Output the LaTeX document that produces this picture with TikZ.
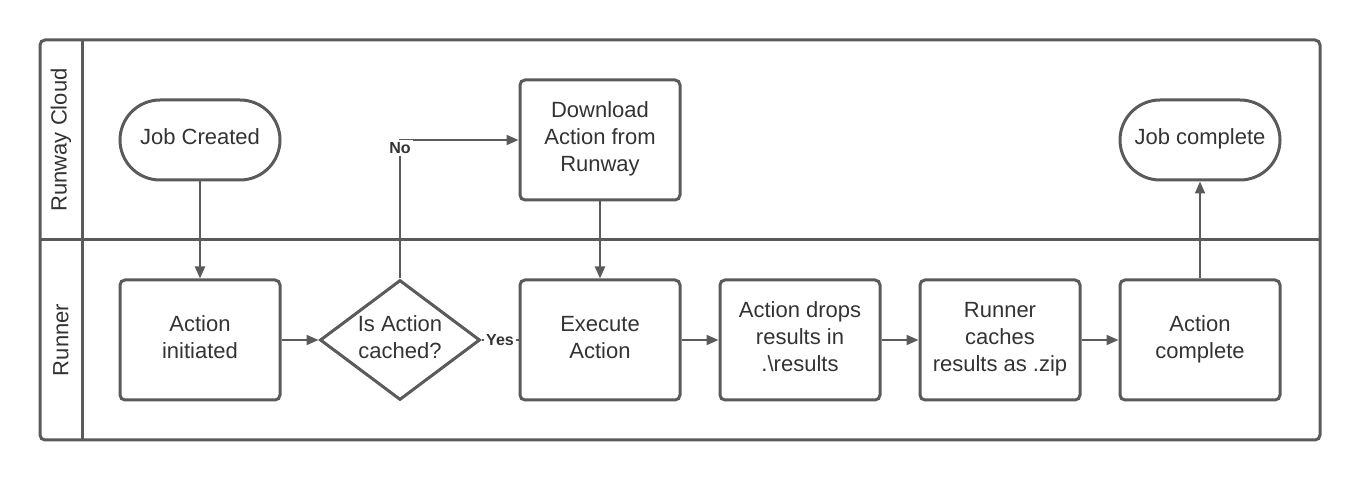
\documentclass[tikz,border=0pt]{standalone}
\usepackage{fontspec}
\setmainfont{Liberation Sans}
\usetikzlibrary{shapes.geometric,arrows.meta}
\definecolor{linegray}{HTML}{5A5A5A}
\definecolor{textgray}{HTML}{333333}
\def\lanefont{\fontsize{11}{13.5}\selectfont}
\tikzset{
  process/.style={draw=linegray, line width=1.5pt, rounded corners=2.5pt, text depth=3pt,
    minimum width=80pt, minimum height=60pt, align=center, text=textgray, font=\lanefont},
  terminal/.style={draw=linegray, line width=1.5pt, rounded corners=20pt, text depth=3pt,
    minimum width=80pt, minimum height=40pt, align=center, text=textgray, font=\lanefont},
  decision/.style={diamond, draw=linegray, line width=1.5pt, aspect=1.333, inner sep=0pt,
    minimum width=80pt, minimum height=60pt, align=center, text=textgray, font=\lanefont},
  flow/.style={draw=linegray, line width=1pt},
  arrow/.style={flow, -{Triangle[length=6pt,width=5pt]}},
  flowlabel/.style={fill=white, inner sep=1pt, text=textgray, font=\fontsize{8}{9.5}\selectfont\bfseries}
}

\begin{document}
\begin{tikzpicture}[x=0.5pt, y=-0.5pt]
    \useasboundingbox (0,0) rectangle (1360,480);
    % lanes
    \draw[linegray, line width=1.5pt, rounded corners=2.5pt] (40,40) rectangle (1320,440);
    \draw[linegray, line width=1.5pt] (82,40) -- (82,440);
    \draw[linegray, line width=1.5pt] (40,240) -- (1320,240);
    \node[rotate=90, text=textgray, font=\lanefont] (cloudlane) at (61,140) {Runway Cloud};
    \node[rotate=90, text=textgray, font=\lanefont] (runnerlane) at (61,340) {Runner};

    \node[terminal] (jobcreated) at (200,140) {Job Created};
    \node[process] (initiated) at (200,340) {Action\\initiated};
    \node[decision] (cached) at (400,340) {};
    \node[text=textgray, font=\lanefont, align=center] (cachedtext) at (400,337) {Is Action\\cached?};
    \node[process] (download) at (600,140) {Download\\Action from\\Runway};
    \node[process] (execute) at (600,340) {Execute\\Action};
    \node[process] (drops) at (800,340) {Action drops\\results in\\.\textbackslash results};
    \node[process] (caches) at (1000,340) {Runner\\caches\\results as .zip};
    \node[process] (actioncomplete) at (1200,340) {Action\\complete};
    \node[terminal] (jobcomplete) at (1200,140) {Job complete};

    \draw[arrow] (jobcreated) -- (initiated);
    \draw[arrow] (initiated) -- (cached);
    \draw[arrow] (cached.north) |- node[flowlabel, pos=0.5, yshift=-4pt] {No} (download.west);
    \draw[flow] (cached.east) -- node[flowlabel] {Yes} (execute.west);
    \draw[arrow] (download) -- (execute);
    \draw[arrow] (execute) -- (drops);
    \draw[arrow] (drops) -- (caches);
    \draw[arrow] (caches) -- (actioncomplete);
    \draw[arrow] (actioncomplete) -- (jobcomplete);
\end{tikzpicture}
\end{document}
